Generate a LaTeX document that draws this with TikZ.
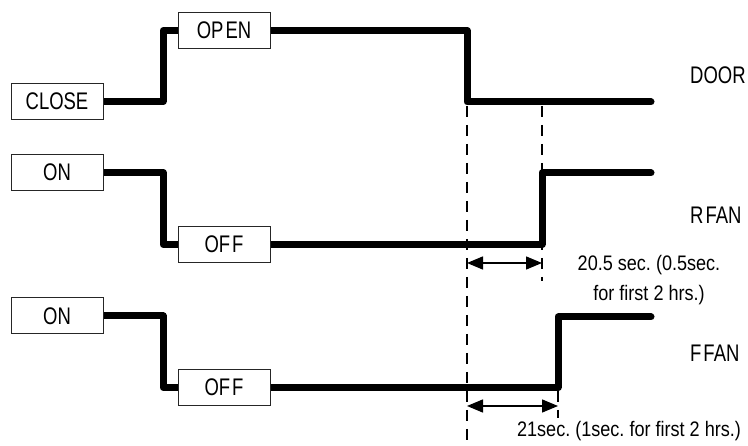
\documentclass[tikz,border=0pt]{standalone}
\usepackage{fontspec}
\setmainfont{Liberation Sans}
\newfontfamily\tagfont{Liberation Sans}[FakeStretch=0.77]
\newfontfamily\notefont{Liberation Sans}[FakeStretch=0.86]
\usetikzlibrary{arrows.meta,backgrounds}
\frenchspacing
\begin{document}
\begin{tikzpicture}[x=1pt,y=-1pt,
  statebox/.style={draw=black!85,line width=1pt,fill=white,minimum width=92pt,minimum height=36pt,inner sep=0pt,font=\tagfont\fontsize{24}{28}\selectfont},
  sig/.style={line width=7pt,line join=round,line cap=round},
  guide/.style={line width=1.3pt,dash pattern=on 11pt off 8pt},
  span/.style={line width=1.5pt,{Triangle[length=16pt,width=13pt]}-{Triangle[length=16pt,width=13pt]}},
  sidelabel/.style={anchor=west,inner sep=0pt,font=\tagfont\fontsize{24}{28}\selectfont},
  note/.style={inner sep=0pt,font=\notefont\fontsize{21}{24}\selectfont}]
\useasboundingbox (0,0) rectangle (748,446);
% boxes
\node[statebox] (close) at (57,101.5) {CLOSE};
\node[statebox] (open)  at (224,30.5) {OP\kern2pt EN};
\node[statebox] (ron)   at (57,172.5) {ON};
\node[statebox] (roff)  at (224,244.5) {OF\kern2pt F};
\node[statebox] (fon)   at (57,316) {ON};
\node[statebox] (foff)  at (224,387.5) {OF\kern2pt F};
% side labels
\node[sidelabel] (door) at (690,75) {DOOR};
\node[sidelabel] (rfan) at (690,215) {R\kern2pt FAN};
\node[sidelabel] (ffan) at (690,353) {F\kern2pt FAN};
% corner coordinates
\coordinate (dA) at (163,30.5);
\coordinate (dB) at (467,30.5);
\coordinate (dEnd) at (651,102);
\coordinate (rA) at (163,244.5);
\coordinate (rB) at (542,244.5);
\coordinate (rEnd) at (651,173);
\coordinate (fA) at (163,387.5);
\coordinate (fB) at (558,387.5);
\coordinate (fEnd) at (651,317);
% signals
\begin{pgfonlayer}{background}
\draw[sig] (close.east) -| (dA) -- (open.west);
\draw[sig] (open.east) -- (dB) |- (dEnd);
\draw[sig] (ron.east) -| (rA) -- (roff.west);
\draw[sig] (roff.east) -- (rB) |- (rEnd);
\draw[sig] (fon.east) -| (fA) -- (foff.west);
\draw[sig] (foff.east) -- (fB) |- (fEnd);
\end{pgfonlayer}
% guides
\coordinate (g1t) at (467,106);
\coordinate (g1b) at (467,446);
\coordinate (g2t) at (542,106);
\coordinate (g2b) at (542,281);
\coordinate (g3t) at (558,391);
\coordinate (g3b) at (558,418);
\draw[guide] (g1t) -- (g1b);
\draw[guide] (g2t) -- (g2b);
\draw[guide] (g3t) -- (g3b);
% spans
\coordinate (s1a) at (467,263);
\coordinate (s1b) at (542,263);
\coordinate (s2a) at (467,406);
\coordinate (s2b) at (558,406);
\draw[span] (s1a) -- (s1b);
\draw[span] (s2a) -- (s2b);
\node[note,align=center] (t1) at (649,280) {20.5 sec. (0.5sec.\\[6pt]for first 2 hrs.)};
\node[note] (t2) at (629,431) {21sec. (1sec. for first 2 hrs.)};
\end{tikzpicture}
\end{document}
